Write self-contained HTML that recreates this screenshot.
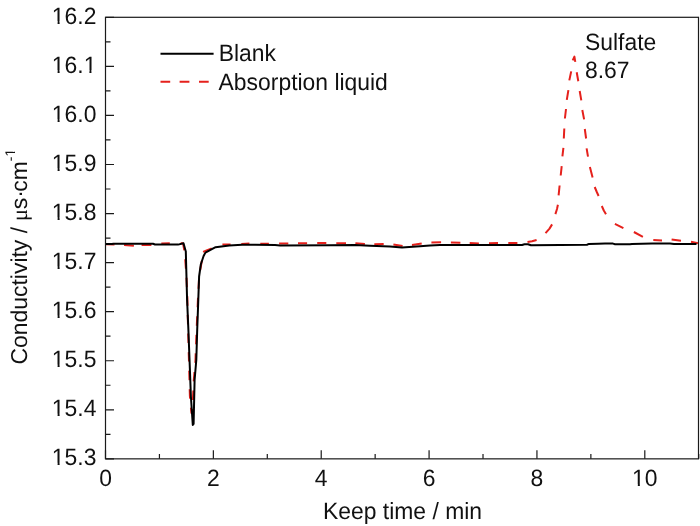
<!DOCTYPE html>
<html><head><meta charset="utf-8"><style>
html,body{margin:0;padding:0;background:#fff;}
body{width:700px;height:526px;overflow:hidden;}
svg{display:block;}
text{font-family:"Liberation Sans",Arial,sans-serif;fill:#111;text-rendering:geometricPrecision;}
</style></head><body>
<svg width="700" height="526" viewBox="0 0 700 526">
<rect width="700" height="526" fill="#fff"/>
<path d="M105.6,244.2 L114.5,244.5M124.1,244.9 L133.9,245.8M141.6,245.0 L151.4,245.1M161.3,243.4 L169.8,243.3M180.6,243.2 L183.0,243.3 L184.3,250.3M185.2,259.3 L185.9,268.7M186.5,277.8 L186.9,287.3M187.3,296.4 L187.4,300.0 L187.5,305.8M187.7,314.9 L188.0,324.4M188.2,333.5 L188.5,343.0M188.7,352.1 L189.0,361.5M189.2,370.6 L189.5,380.1M189.7,389.2 L189.9,396.0 L190.1,398.6M190.9,407.7 L191.4,413.0 L192.3,411.0 L192.4,409.0M192.9,400.0 L193.1,395.0 L193.3,390.5M193.7,381.4 L193.8,380.0 L194.5,372.0M195.3,362.9 L195.5,360.0 L195.7,353.4M196.1,344.4 L196.4,334.9M196.8,325.8 L197.2,316.3M197.6,307.2 L197.9,300.0 L198.0,297.8M198.5,288.7 L199.0,279.2M200.2,270.2 L201.3,264.0 L201.8,260.9M203.1,251.9 L206.0,250.6 L211.7,248.4M222.4,244.6 L230.6,244.4M241.3,243.9 L249.4,243.6M260.3,243.8 L268.9,243.7M279.1,243.5 L288.3,243.5M298.0,243.3 L307.1,243.3M317.2,243.0 L326.3,243.0M336.3,243.2 L346.0,243.2M355.4,243.2 L364.9,244.0M374.3,244.3 L383.7,243.9M393.4,244.6 L402.6,246.0M412.0,245.1 L421.7,243.6M431.4,242.4 L441.1,242.3M450.9,242.4 L460.4,242.8M469.7,243.0 L478.9,243.4M489.0,243.2 L498.0,243.1M508.3,242.9 L517.4,242.9M527.5,242.1 L532.0,241.3 L536.6,240.0M545.5,233.1 L549.5,228.6 L552.1,224.4M555.4,214.1 L557.0,209.0 L557.9,204.7M558.6,195.3 L559.6,185.5M560.7,175.5 L561.7,166.1M562.4,156.3 L563.4,147.9M563.8,138.5 L564.3,128.5M564.9,118.5 L566.0,109.0M566.8,99.8 L568.4,90.2M569.3,80.4 L571.2,71.4M572.7,60.3 L574.4,56.6 L575.3,61.8M576.7,72.3 L578.3,81.2M579.7,91.0 L581.3,100.4M582.3,110.0 L584.1,119.4M584.8,129.0 L586.1,138.5M586.6,148.4 L588.0,156.7M589.9,167.1 L592.6,177.6M594.7,187.0 L596.8,192.0 L598.6,196.0M601.8,206.0 L603.8,210.5 L606.0,214.3M614.9,223.9 L623.4,228.1M633.9,232.0 L642.9,236.8M653.3,240.0 L662.0,240.4M671.6,239.5 L681.0,240.8M691.0,241.8 L698.0,243.3" fill="none" stroke="#e5211c" stroke-width="2" stroke-linejoin="round"/>
<polyline points="105.6,244.0 112.0,244.1 113.0,243.8 153.0,243.7 155.0,244.5 178.0,244.6 183.5,243.2 185.8,251.4 187.1,300.0 188.4,330.0 190.9,396.5 192.8,425.0 193.6,424.0 194.6,380.0 196.3,360.0 197.2,330.0 198.3,300.0 199.1,276.5 200.8,264.5 203.6,256.0 205.4,252.6 215.6,247.2 229.3,245.4 242.1,244.7 255.0,244.8 275.0,245.0 280.0,245.4 330.0,245.2 355.0,245.1 370.0,245.7 390.0,246.6 402.0,247.5 420.0,246.3 430.0,245.5 440.0,245.0 480.0,244.9 522.0,245.0 524.5,244.2 528.0,244.2 531.0,245.3 560.0,245.0 587.0,244.7 589.0,243.9 598.0,243.7 605.0,243.5 613.0,243.6 615.0,244.2 630.0,244.2 632.0,243.9 652.0,243.6 670.0,243.6 674.0,244.0 696.5,244.0" fill="none" stroke="#000" stroke-width="2" stroke-linejoin="round"/>
<rect x="105.5" y="17.3" width="593.0" height="441.55" fill="none" stroke="#1a1a1a" stroke-width="1.2"/>
<path d="M105.5,17.30h8.5M105.5,41.83h5M105.5,66.36h8.5M105.5,90.89h5M105.5,115.42h8.5M105.5,139.95h5M105.5,164.48h8.5M105.5,189.01h5M105.5,213.54h8.5M105.5,238.08h5M105.5,262.61h8.5M105.5,287.14h5M105.5,311.67h8.5M105.5,336.20h5M105.5,360.73h8.5M105.5,385.26h5M105.5,409.79h8.5M105.5,434.32h5M105.5,458.85h8.5M105.50,458.85v-8.5M159.43,458.85v-4.9M213.36,458.85v-8.5M267.29,458.85v-4.9M321.22,458.85v-8.5M375.15,458.85v-4.9M429.08,458.85v-8.5M483.01,458.85v-4.9M536.94,458.85v-8.5M590.87,458.85v-4.9M644.80,458.85v-8.5M698.73,458.85v-4.9" stroke="#1a1a1a" stroke-width="1.2" fill="none"/>
<text transform="translate(96.40,23.60) scale(1,1.03)" font-size="22.9" text-anchor="end">16.2</text>
<text transform="translate(96.40,72.66) scale(1,1.03)" font-size="22.9" text-anchor="end">16.1</text>
<text transform="translate(96.40,121.72) scale(1,1.03)" font-size="22.9" text-anchor="end">16.0</text>
<text transform="translate(96.40,170.78) scale(1,1.03)" font-size="22.9" text-anchor="end">15.9</text>
<text transform="translate(96.40,219.84) scale(1,1.03)" font-size="22.9" text-anchor="end">15.8</text>
<text transform="translate(96.40,268.91) scale(1,1.03)" font-size="22.9" text-anchor="end">15.7</text>
<text transform="translate(96.40,317.97) scale(1,1.03)" font-size="22.9" text-anchor="end">15.6</text>
<text transform="translate(96.40,367.03) scale(1,1.03)" font-size="22.9" text-anchor="end">15.5</text>
<text transform="translate(96.40,416.09) scale(1,1.03)" font-size="22.9" text-anchor="end">15.4</text>
<text transform="translate(96.40,465.15) scale(1,1.03)" font-size="22.9" text-anchor="end">15.3</text>
<text transform="translate(105.50,486.30) scale(1,1.03)" font-size="22.9" text-anchor="middle">0</text>
<text transform="translate(213.36,486.30) scale(1,1.03)" font-size="22.9" text-anchor="middle">2</text>
<text transform="translate(321.22,486.30) scale(1,1.03)" font-size="22.9" text-anchor="middle">4</text>
<text transform="translate(429.08,486.30) scale(1,1.03)" font-size="22.9" text-anchor="middle">6</text>
<text transform="translate(536.94,486.30) scale(1,1.03)" font-size="22.9" text-anchor="middle">8</text>
<text transform="translate(644.80,486.30) scale(1,1.03)" font-size="22.9" text-anchor="middle">10</text>
<text transform="translate(402.50,518.60) scale(1,1.03)" font-size="22.9" text-anchor="middle">Keep time / min</text>
<text transform="translate(27.1,364.6) rotate(-90)" font-size="22.95">Conductivity / <tspan font-size="22.4" font-family="Liberation Serif" dx="-0.45">μ</tspan><tspan font-size="22.95" dx="-0.3">s·</tspan><tspan font-size="22.95" dx="-1.6">cm</tspan><tspan font-size="14" dy="-12">-1</tspan></text>
<line x1="160.5" y1="53.7" x2="213.6" y2="53.7" stroke="#000" stroke-width="2"/>
<text transform="translate(218.70,61.30) scale(1,1.03)" font-size="22.9">Blank</text>
<path d="M160.5,81.7h9.7M179.6,81.7h9.8M199,81.7h9.7" stroke="#e5211c" stroke-width="2"/>
<text transform="translate(218.60,89.60) scale(1,1.03)" font-size="22.9">Absorption liquid</text>
<text transform="translate(585.00,50.40) scale(1,1.03)" font-size="22.9">Sulfate</text>
<text transform="translate(585.00,77.80) scale(1,1.03)" font-size="22.9">8.67</text>
<rect x="52.63" y="21.30" width="4.96" height="3" fill="#fff"/><rect x="59.61" y="21.30" width="4.52" height="3" fill="#fff"/><rect x="52.63" y="70.36" width="4.96" height="3" fill="#fff"/><rect x="59.61" y="70.36" width="4.52" height="3" fill="#fff"/><rect x="84.46" y="70.36" width="4.96" height="3" fill="#fff"/><rect x="91.45" y="70.36" width="4.52" height="3" fill="#fff"/><rect x="52.63" y="119.42" width="4.96" height="3" fill="#fff"/><rect x="59.61" y="119.42" width="4.52" height="3" fill="#fff"/><rect x="52.63" y="168.48" width="4.96" height="3" fill="#fff"/><rect x="59.61" y="168.48" width="4.52" height="3" fill="#fff"/><rect x="52.63" y="217.54" width="4.96" height="3" fill="#fff"/><rect x="59.61" y="217.54" width="4.52" height="3" fill="#fff"/><rect x="52.63" y="266.61" width="4.96" height="3" fill="#fff"/><rect x="59.61" y="266.61" width="4.52" height="3" fill="#fff"/><rect x="52.63" y="315.67" width="4.96" height="3" fill="#fff"/><rect x="59.61" y="315.67" width="4.52" height="3" fill="#fff"/><rect x="52.63" y="364.73" width="4.96" height="3" fill="#fff"/><rect x="59.61" y="364.73" width="4.52" height="3" fill="#fff"/><rect x="52.63" y="413.79" width="4.96" height="3" fill="#fff"/><rect x="59.61" y="413.79" width="4.52" height="3" fill="#fff"/><rect x="52.63" y="462.85" width="4.96" height="3" fill="#fff"/><rect x="59.61" y="462.85" width="4.52" height="3" fill="#fff"/><rect x="632.86" y="484.00" width="4.96" height="3" fill="#fff"/><rect x="639.85" y="484.00" width="4.52" height="3" fill="#fff"/><g transform="translate(27.1,364.6) rotate(-90)"><rect x="208.47" y="-14.2" width="3.12" height="2.9" fill="#fff"/><rect x="212.83" y="-14.2" width="3.04" height="2.9" fill="#fff"/></g>
</svg></body></html>
